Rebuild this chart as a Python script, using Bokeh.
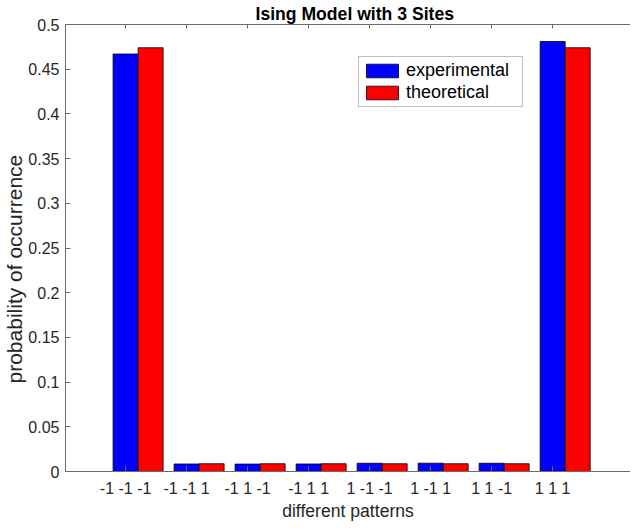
from bokeh.plotting import figure
from bokeh.models import (FixedTicker, LinearAxis, Range1d, Legend, LegendItem,
                          CustomJSTickFormatter, Title, ColumnDataSource)
from bokeh.embed import file_html
from bokeh.resources import INLINE

# ---- data ----
patterns = ["-1 -1 -1", "-1 -1 1", "-1 1 -1", "-1 1 1",
            "1 -1 -1", "1 -1 1", "1 1 -1", "1 1 1"]
positions = [1, 2, 3, 4, 5, 6, 7, 8]
experimental = [0.467, 0.0084, 0.0083, 0.0084, 0.0092, 0.0093, 0.0092, 0.481]
theoretical = [0.474, 0.0087, 0.0087, 0.0087, 0.0087, 0.0087, 0.0087, 0.474]
y_ticks = [0, 0.05, 0.1, 0.15, 0.2, 0.25, 0.3, 0.35, 0.4, 0.45, 0.5]

title_text = "Ising Model with 3 Sites"
x_label = "different patterns"
y_label = "probability of occurrence"

FONT = "Liberation Sans"
TXT = "#262626"
AX = "#6b6b6b"
BAR_W = 0.41

p = figure(width=630, height=523, output_backend="svg", toolbar_location=None,
           x_range=Range1d(0.015, 9.276), y_range=Range1d(0, 0.5),
           min_border_left=61, min_border_right=0, min_border_top=23,
           min_border_bottom=47, x_axis_location="below")
p.outline_line_color = None
p.xgrid.visible = False
p.ygrid.visible = False
p.background_fill_color = "white"
p.border_fill_color = "white"

src = ColumnDataSource(dict(
    xb=positions, xr=[x + BAR_W for x in positions],
    exp=experimental, th=theoretical))

rb = p.vbar(x="xb", top="exp", width=BAR_W, bottom=0, source=src,
            fill_color="#0000ff", line_color="#000000", line_width=0.8)
rr = p.vbar(x="xr", top="th", width=BAR_W, bottom=0, source=src,
            fill_color="#ff0000", line_color="#000000", line_width=0.8)

# axes styling
xa = p.xaxis[0]
xa.ticker = FixedTicker(ticks=positions)
xa.major_label_overrides = {i: s for i, s in zip(positions, patterns)}
ya = p.yaxis[0]
ya.ticker = FixedTicker(ticks=y_ticks)
ya.formatter = CustomJSTickFormatter(code="return String(parseFloat(tick.toFixed(2)));")

for a in (xa, ya):
    a.major_tick_in = 5
    a.major_tick_out = 0
    a.minor_tick_line_color = None
    a.axis_line_color = AX
    a.major_tick_line_color = AX
    a.major_label_text_font = FONT
    a.major_label_text_font_size = "16px"
    a.major_label_text_color = TXT
xa.major_label_standoff = 8
ya.major_label_standoff = 6

xa.axis_label = x_label
xa.axis_label_text_font = FONT
xa.axis_label_text_font_size = "17.6px"
xa.axis_label_text_font_style = "normal"
xa.axis_label_text_color = TXT
xa.axis_label_standoff = 1

# top axis (box line with inward ticks)
top = LinearAxis(ticker=FixedTicker(ticks=positions), major_label_text_font_size="0px",
                 major_tick_in=4, major_tick_out=0, minor_tick_line_color=None,
                 axis_line_color=AX, major_tick_line_color=AX,
                 major_label_standoff=0)
top.major_label_overrides = {i: "" for i in positions}
p.add_layout(top, "above")

# title
p.title.text = title_text
p.title.text_font = FONT
p.title.text_font_size = "17.6px"
p.title.text_font_style = "bold"
p.title.text_color = "#000000"
p.title.align = "left"
p.title.offset = 190
p.title.standoff = 2

# y label as a left-side title (allows an offset along the axis)
ylab = Title(text=y_label, align="left", offset=88, standoff=0,
             text_font=FONT, text_font_size="21px", text_font_style="normal",
             text_color=TXT)
p.add_layout(ylab, "left")

legend = Legend(items=[LegendItem(label="experimental", renderers=[rb]),
                       LegendItem(label="theoretical", renderers=[rr])],
                location=(293, 364))
legend.glyph_width = 40
legend.glyph_height = 17
legend.label_text_font = FONT
legend.label_text_font_size = "18px"
legend.label_text_color = "#000000"
legend.label_standoff = 4
legend.label_height = 17
legend.label_width = 113
legend.spacing = 1
legend.padding = 3
legend.margin = 0
legend.border_line_color = "#808080"
legend.border_line_width = 1
legend.background_fill_color = "white"
legend.background_fill_alpha = 1
p.add_layout(legend, "center")

open("out.html", "w").write(file_html(p, INLINE))
